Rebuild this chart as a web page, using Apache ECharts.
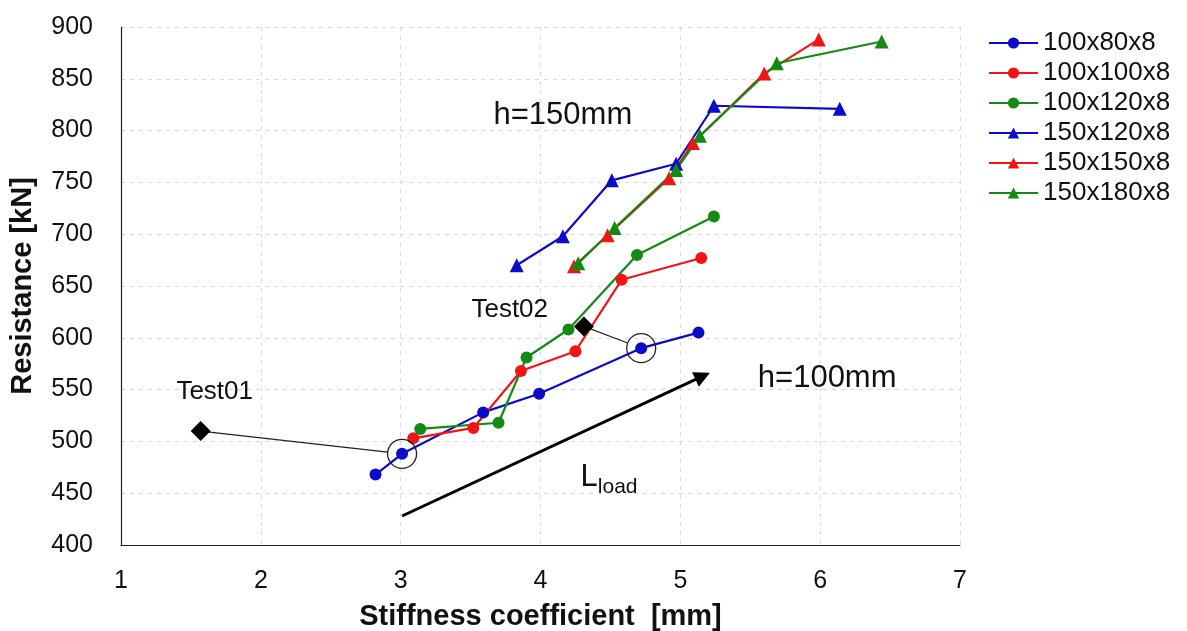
<!DOCTYPE html>
<html>
<head>
<meta charset="utf-8">
<script src="https://cdn.jsdelivr.net/npm/echarts@6/dist/echarts.min.js"></script>
<style>
  html, body { margin: 0; padding: 0; background: #ffffff; }
  #chart { width: 1187px; height: 631px; }
</style>
</head>
<body>
<div id="chart"></div>
<script>
// Measured stiffness coefficient [mm] and resistance [kN] per joint configuration
const x_100x80x8  = [2.82, 3.01, 3.59, 3.99, 4.72, 5.13];
const y_100x80x8  = [468, 488, 528, 546, 590, 605];
const x_100x100x8 = [3.09, 3.52, 3.86, 4.25, 4.58, 5.15];
const y_100x100x8 = [503, 513, 568, 587, 656, 677];
const x_100x120x8 = [3.14, 3.70, 3.90, 4.20, 4.69, 5.24];
const y_100x120x8 = [512, 518, 581, 608, 680, 717];
const x_150x120x8 = [3.83, 4.16, 4.51, 4.97, 5.24, 6.14];
const y_150x120x8 = [670, 698, 752, 768, 824, 821];
const x_150x150x8 = [4.24, 4.48, 4.92, 5.09, 5.60, 5.99];
const y_150x150x8 = [669, 699, 754, 788, 855, 888];
const x_150x180x8 = [4.27, 4.53, 4.97, 5.14, 5.69, 6.44];
const y_150x180x8 = [672, 706, 762, 795, 865, 886];

// Experimental results and the 100x80x8 point each one is compared with
const testNames = ['Test01', 'Test02'];
const testX = [1.57, 4.31];
const testY = [510, 611];
const testPairIndex = [1, 4];

// Load direction arrow (start, end) in axis units
const loadArrowX = [3.01, 5.16];
const loadArrowY = [428, 563];

const zip = (xs, ys) => xs.map((x, i) => [x, ys[i]]);

const BLUE = '#0c0cc8';
const RED = '#f01414';
const GREEN = '#138a13';
const FONT = '"Liberation Sans", Arial, sans-serif';

const curves = [
  { name: '100x80x8',  xs: x_100x80x8,  ys: y_100x80x8,  color: BLUE,  symbol: 'circle' },
  { name: '100x100x8', xs: x_100x100x8, ys: y_100x100x8, color: RED,   symbol: 'circle' },
  { name: '100x120x8', xs: x_100x120x8, ys: y_100x120x8, color: GREEN, symbol: 'circle' },
  { name: '150x120x8', xs: x_150x120x8, ys: y_150x120x8, color: BLUE,  symbol: 'triangle' },
  { name: '150x150x8', xs: x_150x150x8, ys: y_150x150x8, color: RED,   symbol: 'triangle' },
  { name: '150x180x8', xs: x_150x180x8, ys: y_150x180x8, color: GREEN, symbol: 'triangle' }
];

const lineSeries = curves.map(c => ({
  name: c.name,
  type: 'line',
  data: zip(c.xs, c.ys),
  symbol: c.symbol,
  symbolSize: c.symbol === 'circle' ? 12 : 14,
  showSymbol: true,
  lineStyle: { color: c.color, width: 2.2 },
  itemStyle: { color: c.color, opacity: 1 },
  z: 3
}));

const chart = echarts.init(document.getElementById('chart'), null, { renderer: 'canvas' });

const pairedX = testPairIndex.map(i => x_100x80x8[i]);
const pairedY = testPairIndex.map(i => y_100x80x8[i]);

chart.setOption({
  animation: false,
  backgroundColor: '#ffffff',
  grid: { left: 121, right: 227, top: 27, bottom: 86, containLabel: false, outerBoundsMode: 'none' },
  legend: {
    orient: 'vertical',
    left: 983,
    top: 25,
    itemWidth: 49,
    itemHeight: 14,
    itemGap: 4,
    data: curves.map(c => c.name),
    textStyle: { fontFamily: FONT, fontSize: 26, color: '#111', lineHeight: 26 }
  },
  xAxis: {
    type: 'value',
    min: 1, max: 7, interval: 1,
    name: 'Stiffness coefficient  [mm]',
    nameLocation: 'middle',
    nameGap: 57,
    nameTextStyle: { fontFamily: FONT, fontSize: 29, fontWeight: 'bold', color: '#111' },
    axisLine: { show: true, onZero: false, lineStyle: { color: '#222', width: 1.2 } },
    axisTick: { show: false },
    axisLabel: { fontFamily: FONT, fontSize: 25, color: '#111', margin: 24 },
    splitLine: { show: true, lineStyle: { color: '#d9d9d9', type: [4, 5], width: 1 } }
  },
  yAxis: {
    type: 'value',
    min: 400, max: 900, interval: 50,
    name: 'Resistance [kN]',
    nameLocation: 'middle',
    nameGap: 84,
    nameTextStyle: { fontFamily: FONT, fontSize: 29, fontWeight: 'bold', color: '#111' },
    axisLine: { show: true, onZero: false, lineStyle: { color: '#222', width: 1.2 } },
    axisTick: { show: false },
    axisLabel: { fontFamily: FONT, fontSize: 25, color: '#111', margin: 28 },
    splitLine: { show: true, lineStyle: { color: '#d9d9d9', type: [4, 5], width: 1 } }
  },
  series: lineSeries.concat([
    {
      name: 'compare',
      type: 'scatter',
      data: zip(pairedX, pairedY),
      symbol: 'circle',
      symbolSize: 29,
      itemStyle: { color: 'rgba(0,0,0,0)', borderColor: '#222', borderWidth: 1.3, opacity: 1 },
      silent: true,
      z: 4
    },
    {
      name: 'tests',
      type: 'scatter',
      data: zip(testX, testY),
      symbol: 'diamond',
      symbolSize: 20,
      itemStyle: { color: '#000', opacity: 1 },
      silent: true,
      z: 5,
      markLine: {
        silent: true,
        symbol: ['none', 'triangle'],
        symbolSize: 16,
        label: { show: false },
        lineStyle: { color: '#000', width: 3, type: 'solid', opacity: 1 },
        data: [[
          { coord: [loadArrowX[0], loadArrowY[0]] },
          { coord: [loadArrowX[1], loadArrowY[1]] }
        ]]
      }
    }
  ])
});

// Annotation texts and connector lines, placed through the grid's coordinate system
const toPx = (x, y) => chart.convertToPixel({ gridIndex: 0 }, [x, y]);
const labelFont = (size) => `${size}px ${FONT}`;

const notes = [
  { text: 'h=150mm', at: [4.16, 815], size: 31 },
  { text: 'h=100mm', at: [6.05, 561], size: 31 },
  { text: 'Test01',  at: [1.67, 548], size: 26 },
  { text: 'Test02',  at: [3.78, 627], size: 26 }
];

const graphics = notes.map(n => {
  const p = toPx(n.at[0], n.at[1]);
  return {
    type: 'text', x: p[0], y: p[1], silent: true, z: 10,
    style: { text: n.text, font: labelFont(n.size), fill: '#111', align: 'center', verticalAlign: 'middle' }
  };
});

const lp = toPx(4.49, 465);
graphics.push({
  type: 'text', x: lp[0], y: lp[1], silent: true, z: 10,
  style: {
    text: '{a|L}{b|load}',
    align: 'center', verticalAlign: 'middle',
    rich: {
      a: { font: labelFont(31), fill: '#111', verticalAlign: 'bottom' },
      b: { font: labelFont(21), fill: '#111', verticalAlign: 'bottom', padding: [0, 0, -5, 0] }
    }
  }
});

const ringRadius = 14.5;
testX.forEach((tx, i) => {
  const a = toPx(tx, testY[i]);
  const b = toPx(pairedX[i], pairedY[i]);
  const dx = b[0] - a[0], dy = b[1] - a[1];
  const len = Math.hypot(dx, dy);
  const ex = b[0] - dx / len * ringRadius;
  const ey = b[1] - dy / len * ringRadius;
  graphics.push({
    type: 'line', silent: true, z: 2,
    shape: { x1: a[0], y1: a[1], x2: ex, y2: ey },
    style: { stroke: '#222', lineWidth: 1.2 }
  });
});

chart.setOption({ graphic: graphics });
</script>
</body>
</html>
